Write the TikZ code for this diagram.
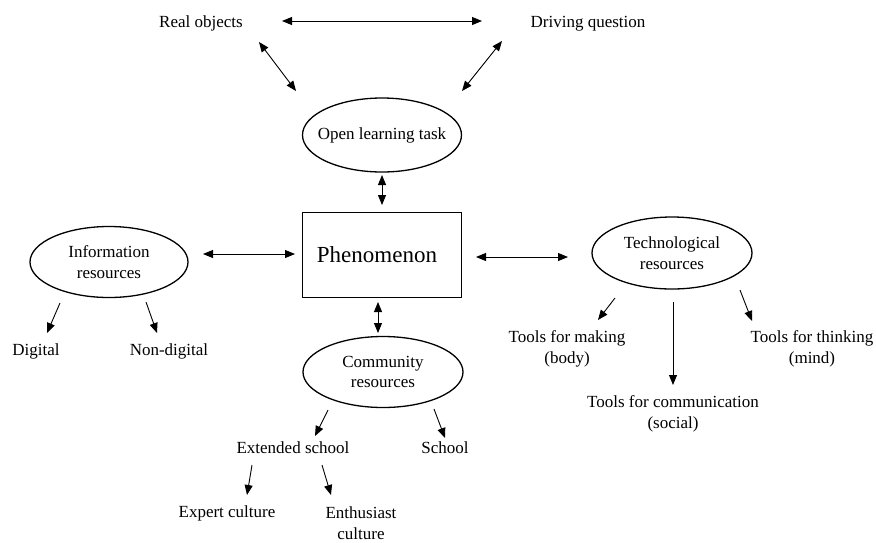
\documentclass[tikz,border=0pt]{standalone}
\usepackage{fontspec}
\setmainfont{Liberation Serif}
\usetikzlibrary{arrows.meta,shapes.geometric}
\tikzset{
  >={Triangle[length=10pt,width=8pt]},
  txt/.style={font=\fontsize{17}{20.5}\selectfont, inner sep=0pt, text height=12pt, text depth=4pt},
  txtt/.style={font=\fontsize{17}{20.5}\selectfont, inner sep=0pt, align=center},
  resource/.style={ellipse, draw, line width=1.3pt, minimum width=160pt, minimum height=72pt,
    inner sep=0pt, label={[txtt]center:{#1}}},
  link/.style={line width=0.9pt},
}
\begin{document}
\begin{tikzpicture}[x=1pt,y=-1pt]
\useasboundingbox (0,0) rectangle (876,542);
% top row
\node[txt] (real) at (201,23) {Real objects};
\node[txt] (drive) at (588,23) {Driving question};
\node[resource={Open learning task}, minimum width=159pt, minimum height=74pt] (olt) at (382,135) {};
% centre
\node[draw, line width=1.3pt, minimum width=159pt, minimum height=85pt,
  font=\fontsize{23}{28}\selectfont] (phen) at (382,255) {\hspace*{-10pt}Phenomenon};
\node[resource={Information\\resources}, minimum width=158pt, minimum height=71pt] (info) at (109,262) {};
\node[resource={Technological\\resources}] (tech) at (672,253) {};
\node[resource={Community\\resources}, minimum height=71pt] (comm) at (383,372) {};
% leaves
\node[txt] (dig) at (36,351) {Digital};
\node[txt] (nondig) at (169,351) {Non-digital};
\node[txtt] (making) at (567,349) {Tools for making\\(body)};
\node[txtt] (thinking) at (812,349) {Tools for thinking\\(mind)};
\node[txtt] (commtools) at (673,414) {Tools for communication\\(social)};
\node[txt] (ext) at (293,449) {Extended school};
\node[txt] (school) at (445,449) {School};
\node[txt] (expert) at (227,513) {Expert culture};
\node[txtt] (enth) at (361,523) {Enthusiast\\culture};
% two-way links
\foreach \a/\sx/\sy/\b/\ex/\ey in {real/81/-2/drive/-106/-2, real/58/19/olt/-86/-44,
  drive/-86/18/olt/80/-44, olt/0/40/phen/0/-50, phen/-87/-1/info/94/-8,
  phen/94/2/tech/-104/4, phen/-4/47/comm/-5/-39}
{
  \draw[link,<->] ([shift={(\sx,\sy)}]\a.center) -- ([shift={(\ex,\ey)}]\b.center);
}
% one-way links
\foreach \a/\sx/\sy/\b/\ex/\ey in {info/-49/41/dig/11/-18, info/37/40/nondig/-12/-18,
  tech/-57/45/making/31/-29, tech/1/49/commtools/0/-29, tech/68/37/thinking/-60/-28,
  comm/-55/38/ext/22/-13, comm/51/37/school/0/-11,
  ext/-41/16/expert/20/-18, ext/29/16/enth/-30/-28}
{
  \draw[link,->] ([shift={(\sx,\sy)}]\a.center) -- ([shift={(\ex,\ey)}]\b.center);
}
\end{tikzpicture}
\end{document}
